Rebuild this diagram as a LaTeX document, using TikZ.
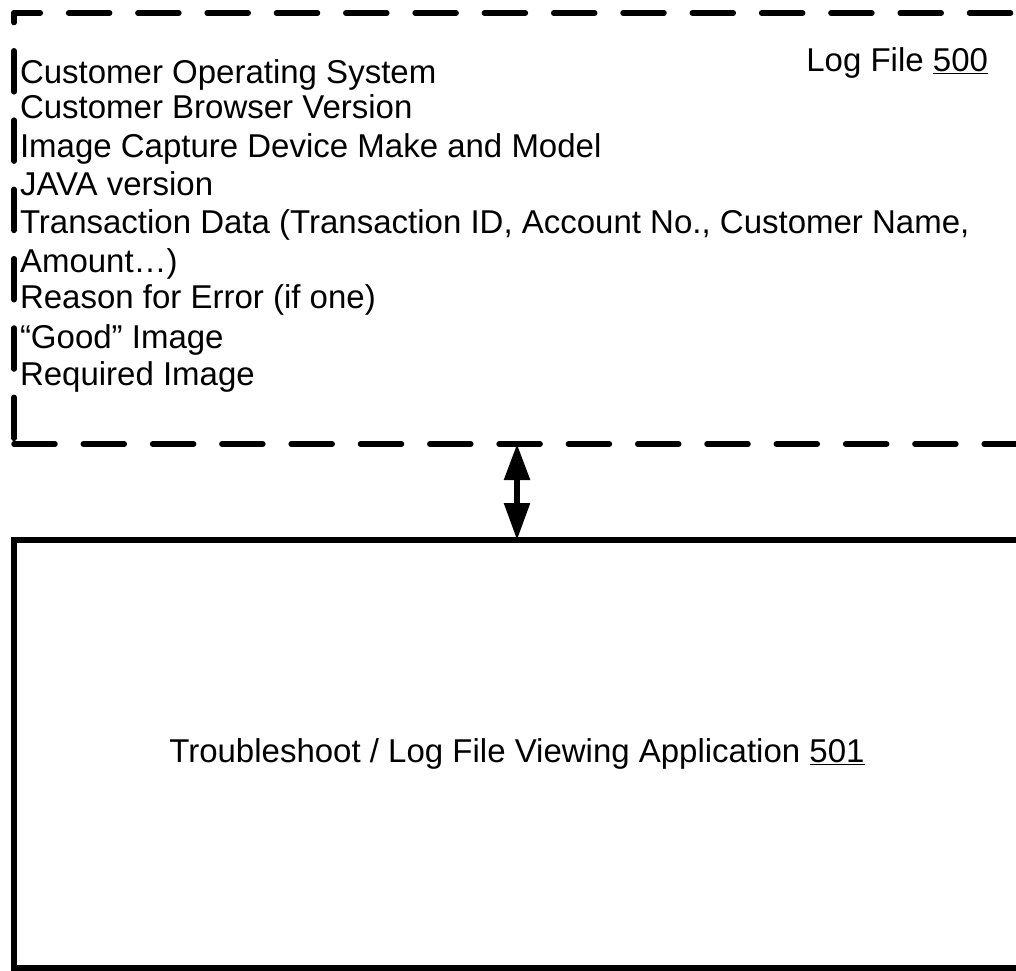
\documentclass[tikz,border=0pt]{standalone}
\usepackage{fontspec}
\setmainfont{Liberation Sans}
\usetikzlibrary{arrows.meta}
\begin{document}
\begin{tikzpicture}[x=1pt,y=-1pt,
  every node/.style={inner sep=0pt,outer sep=0pt},
  txt/.style={font=\fontsize{33}{39}\selectfont,anchor=base west},
  edge/.style={line width=5.5pt,line cap=round,dash pattern=on 41pt off 28.3pt},
  boxline/.style={line width=5.5pt},
  link/.style={line width=5.5pt,{Triangle[length=36pt,width=25pt]}-{Triangle[length=37pt,width=25pt]}}
]
\useasboundingbox (0,0) rectangle (1016,970);
\clip (0,0) rectangle (1016,970);
% log file frame (right edge lies outside the picture)
\node[minimum width=1006pt,minimum height=431pt] (log) at (517,228.5) {};
\draw[edge,dash phase=59.8pt] (log.north east) -- (log.north west);
\draw[edge,dash phase=31.5pt] (log.north west) -- (log.south west);
\draw[edge,dash phase=0pt] (log.south west) -- (log.south east);
\node[txt,anchor=base east] (title) at (988,71) {Log File \underline{500}};
\node[txt] (l1) at (20,83) {Customer Operating System};
\node[txt] (l2) at (20,118) {Customer Browser Version};
\node[txt] (l3) at (20,157) {Image Capture Device Make and Model};
\node[txt] (l4) at (20,195) {JAVA version};
\node[txt] (l5) at (20,233) {Transaction Data (Transaction ID, Account No., Customer Name,};
\node[txt] (l6) at (20,272) {Amount\dots)};
\node[txt] (l7) at (20,308) {Reason for Error (if one)};
\node[txt] (l8) at (20,348) {“Good” Image};
\node[txt] (l9) at (20,385) {Required Image};
% application box
\node[boxline,draw,minimum width=1006pt,minimum height=428pt,font=\fontsize{33}{39}\selectfont] (app) at (517,754)
  {Troubleshoot / Log File Viewing Application \underline{501}};
\draw[link] (log.south) -- (app.north);
\end{tikzpicture}
\end{document}
